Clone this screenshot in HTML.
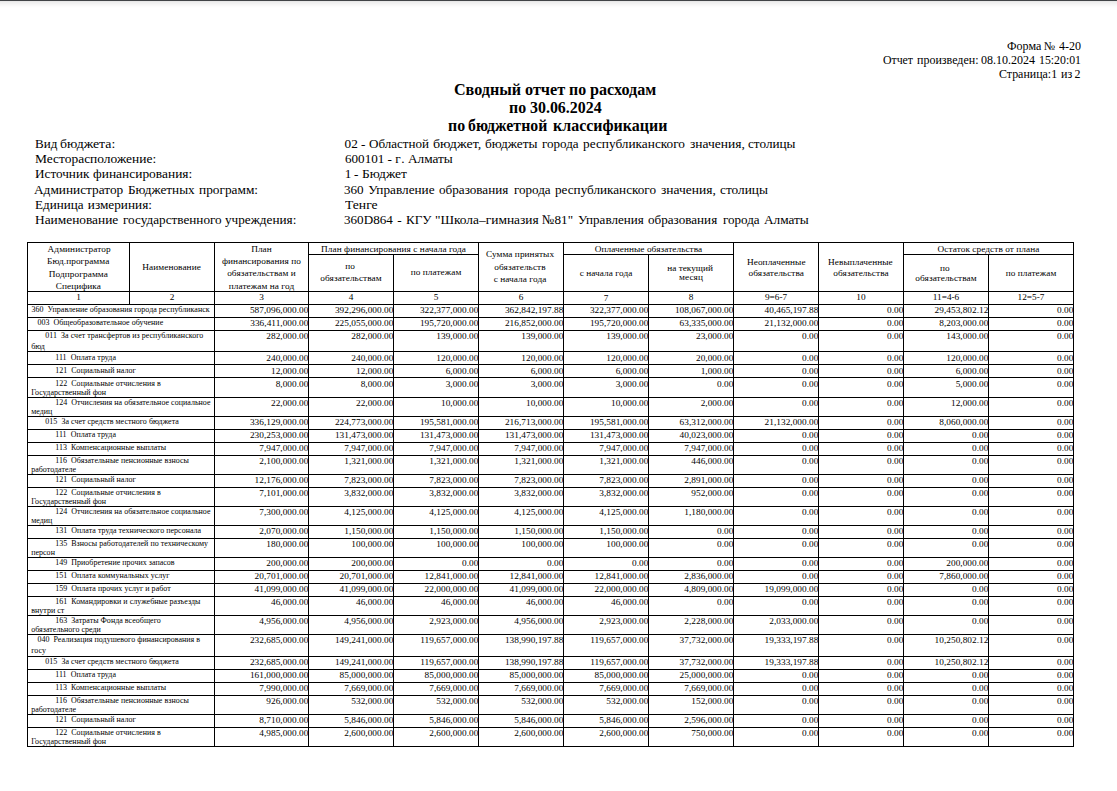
<!DOCTYPE html>
<html lang="ru"><head><meta charset="utf-8"><title>Сводный отчет по расходам</title>
<style>
html,body{margin:0;padding:0;background:#fff;}
body{width:1117px;height:791px;position:relative;overflow:hidden;font-family:"Liberation Serif",serif;color:#000;}
.t{position:absolute;white-space:nowrap;}
.w{transform-origin:0 0;}
.l{position:absolute;background:#000;}
.s{position:absolute;left:0;width:1117px;height:1px;}
</style></head><body>
<div class="s" style="top:0px;background:#414447"></div><div class="s" style="top:1px;background:#e8e8e8"></div><div class="s" style="top:2px;background:#efefef"></div><div class="s" style="top:3px;background:#f2f2f2"></div><div class="s" style="top:4px;background:#f6f6f6"></div><div class="s" style="top:5px;background:#f9f9f9"></div><div class="s" style="top:6px;background:#fcfcfc"></div><div class="s" style="top:7px;background:#fefefe"></div>
<div class="t w" style="left:1006.79px;top:38px;font-size:11.939px;line-height:16px;transform:scaleX(1.0105);">Форма</div>
<div class="t w" style="left:1043.83px;top:38px;font-size:11.939px;line-height:16px;">№</div>
<div class="t w" style="left:1058.55px;top:38px;font-size:11.939px;line-height:16px;transform:scaleX(1.0100);">4-20</div>
<div class="t w" style="left:882.71px;top:52px;font-size:11.939px;line-height:16px;transform:scaleX(0.9890);">Отчет</div>
<div class="t w" style="left:916.65px;top:52px;font-size:11.939px;line-height:16px;transform:scaleX(1.0071);">произведен:</div>
<div class="t w" style="left:980.80px;top:52px;font-size:11.939px;line-height:16px;transform:scaleX(1.0075);">08.10.2024</div>
<div class="t w" style="left:1038.61px;top:52px;font-size:11.939px;line-height:16px;transform:scaleX(0.9900);">15:20:01</div>
<div class="t w" style="left:999.00px;top:66px;font-size:11.939px;line-height:16px;">Страница:1</div>
<div class="t w" style="left:1061.05px;top:66px;font-size:11.939px;line-height:16px;transform:scaleX(1.0095);">из</div>
<div class="t w" style="left:1074.40px;top:66px;font-size:11.939px;line-height:16px;">2</div>
<div class="t w" style="left:453.84px;top:80px;font-size:15.919px;line-height:19px;font-weight:bold;transform:scaleX(1.0104);">Сводный</div>
<div class="t w" style="left:524.56px;top:80px;font-size:15.919px;line-height:19px;font-weight:bold;transform:scaleX(1.0201);">отчет</div>
<div class="t w" style="left:569.23px;top:80px;font-size:15.919px;line-height:19px;font-weight:bold;transform:scaleX(0.9984);">по</div>
<div class="t w" style="left:590.35px;top:80px;font-size:15.919px;line-height:19px;font-weight:bold;transform:scaleX(1.0135);">расходам</div>
<div class="t w" style="left:509.03px;top:98px;font-size:15.919px;line-height:19px;font-weight:bold;transform:scaleX(0.9984);">по</div>
<div class="t w" style="left:530.17px;top:98px;font-size:15.919px;line-height:19px;font-weight:bold;transform:scaleX(1.0011);">30.06.2024</div>
<div class="t w" style="left:447.53px;top:116px;font-size:15.919px;line-height:19px;font-weight:bold;transform:scaleX(0.9984);">по</div>
<div class="t w" style="left:468.18px;top:116px;font-size:15.919px;line-height:19px;font-weight:bold;transform:scaleX(0.9943);">бюджетной</div>
<div class="t w" style="left:553.12px;top:116px;font-size:15.919px;line-height:19px;font-weight:bold;transform:scaleX(1.0042);">классификации</div>
<div class="t w" style="left:34.73px;top:135px;font-size:13.266px;line-height:17px;transform:scaleX(0.9850);">Вид</div>
<div class="t w" style="left:59.75px;top:135px;font-size:13.266px;line-height:17px;transform:scaleX(1.0414);">бюджета:</div>
<div class="t w" style="left:34.72px;top:150px;font-size:13.266px;line-height:17px;transform:scaleX(1.0146);">Месторасположение:</div>
<div class="t w" style="left:34.73px;top:165px;font-size:13.266px;line-height:17px;transform:scaleX(0.9954);">Источник</div>
<div class="t w" style="left:92.89px;top:165px;font-size:13.266px;line-height:17px;transform:scaleX(1.0140);">финансирования:</div>
<div class="t w" style="left:34.47px;top:181px;font-size:13.266px;line-height:17px;transform:scaleX(1.0040);">Администратор</div>
<div class="t w" style="left:127.83px;top:181px;font-size:13.266px;line-height:17px;transform:scaleX(0.9974);">Бюджетных</div>
<div class="t w" style="left:199.05px;top:181px;font-size:13.266px;line-height:17px;transform:scaleX(1.0057);">программ:</div>
<div class="t w" style="left:34.73px;top:196px;font-size:13.266px;line-height:17px;transform:scaleX(0.9876);">Единица</div>
<div class="t w" style="left:87.85px;top:196px;font-size:13.266px;line-height:17px;">измериния:</div>
<div class="t w" style="left:34.72px;top:211px;font-size:13.266px;line-height:17px;transform:scaleX(1.0092);">Наименование</div>
<div class="t w" style="left:122.65px;top:211px;font-size:13.266px;line-height:17px;transform:scaleX(0.9962);">государственного</div>
<div class="t w" style="left:225.48px;top:211px;font-size:13.266px;line-height:17px;transform:scaleX(0.9975);">учреждения:</div>
<div class="t w" style="left:344.50px;top:135px;font-size:13.266px;line-height:17px;">02</div>
<div class="t w" style="left:361.10px;top:135px;font-size:13.266px;line-height:17px;">-</div>
<div class="t w" style="left:368.61px;top:135px;font-size:13.266px;line-height:17px;transform:scaleX(0.9850);">Областной</div>
<div class="t w" style="left:433.44px;top:135px;font-size:13.266px;line-height:17px;transform:scaleX(1.0554);">бюджет,</div>
<div class="t w" style="left:484.97px;top:135px;font-size:13.266px;line-height:17px;transform:scaleX(1.0044);">бюджеты</div>
<div class="t w" style="left:541.75px;top:135px;font-size:13.266px;line-height:17px;transform:scaleX(0.9850);">города</div>
<div class="t w" style="left:583.35px;top:135px;font-size:13.266px;line-height:17px;transform:scaleX(1.0042);">республиканского</div>
<div class="t w" style="left:689.72px;top:135px;font-size:13.266px;line-height:17px;transform:scaleX(1.0185);">значения,</div>
<div class="t w" style="left:748.10px;top:135px;font-size:13.266px;line-height:17px;transform:scaleX(0.9963);">столицы</div>
<div class="t w" style="left:344.50px;top:150px;font-size:13.266px;line-height:17px;transform:scaleX(0.9900);">600101</div>
<div class="t w" style="left:387.60px;top:150px;font-size:13.266px;line-height:17px;">-</div>
<div class="t w" style="left:395.15px;top:150px;font-size:13.266px;line-height:17px;">г</div>
<div class="t w" style="left:401.23px;top:150px;font-size:13.266px;line-height:17px;">.</div>
<div class="t w" style="left:408.17px;top:150px;font-size:13.266px;line-height:17px;transform:scaleX(1.0011);">Алматы</div>
<div class="t w" style="left:344.78px;top:165px;font-size:13.266px;line-height:17px;">1</div>
<div class="t w" style="left:354.10px;top:165px;font-size:13.266px;line-height:17px;">-</div>
<div class="t w" style="left:362.02px;top:165px;font-size:13.266px;line-height:17px;transform:scaleX(1.0155);">Бюджет</div>
<div class="t w" style="left:344.38px;top:181px;font-size:13.266px;line-height:17px;transform:scaleX(0.9900);">360</div>
<div class="t w" style="left:368.13px;top:181px;font-size:13.266px;line-height:17px;">Управление</div>
<div class="t w" style="left:439.20px;top:181px;font-size:13.266px;line-height:17px;transform:scaleX(0.9910);">образования</div>
<div class="t w" style="left:513.75px;top:181px;font-size:13.266px;line-height:17px;transform:scaleX(0.9850);">города</div>
<div class="t w" style="left:555.15px;top:181px;font-size:13.266px;line-height:17px;transform:scaleX(0.9943);">республиканского</div>
<div class="t w" style="left:661.22px;top:181px;font-size:13.266px;line-height:17px;transform:scaleX(1.0185);">значения,</div>
<div class="t w" style="left:719.50px;top:181px;font-size:13.266px;line-height:17px;transform:scaleX(1.0048);">столицы</div>
<div class="t w" style="left:344.74px;top:196px;font-size:13.266px;line-height:17px;transform:scaleX(1.0290);">Тенге</div>
<div class="t w" style="left:344.38px;top:211px;font-size:13.266px;line-height:17px;transform:scaleX(0.9900);">360D864</div>
<div class="t w" style="left:397.30px;top:211px;font-size:13.266px;line-height:17px;">-</div>
<div class="t w" style="left:405.53px;top:211px;font-size:13.266px;line-height:17px;transform:scaleX(0.9850);">КГУ</div>
<div class="t w" style="left:434.81px;top:211px;font-size:13.266px;line-height:17px;transform:scaleX(1.0123);">&quot;Школа–гимназия</div>
<div class="t w" style="left:542.13px;top:211px;font-size:13.266px;line-height:17px;transform:scaleX(0.9900);">№81&quot;</div>
<div class="t w" style="left:578.03px;top:211px;font-size:13.266px;line-height:17px;transform:scaleX(0.9850);">Управления</div>
<div class="t w" style="left:648.21px;top:211px;font-size:13.266px;line-height:17px;transform:scaleX(0.9895);">образования</div>
<div class="t w" style="left:723.05px;top:211px;font-size:13.266px;line-height:17px;transform:scaleX(0.9850);">города</div>
<div class="t w" style="left:763.77px;top:211px;font-size:13.266px;line-height:17px;transform:scaleX(1.0011);">Алматы</div>
<div class="l" style="left:27px;top:242px;width:1047px;height:1px"></div>
<div class="l" style="left:308px;top:254px;width:171px;height:1px"></div>
<div class="l" style="left:563px;top:254px;width:171px;height:1px"></div>
<div class="l" style="left:903px;top:254px;width:171px;height:1px"></div>
<div class="l" style="left:27px;top:291px;width:1047px;height:1px"></div>
<div class="l" style="left:27px;top:304px;width:1047px;height:1px"></div>
<div class="l" style="left:27px;top:317px;width:1047px;height:1px"></div>
<div class="l" style="left:27px;top:330px;width:1047px;height:1px"></div>
<div class="l" style="left:27px;top:351px;width:1047px;height:1px"></div>
<div class="l" style="left:27px;top:364px;width:1047px;height:1px"></div>
<div class="l" style="left:27px;top:377px;width:1047px;height:1px"></div>
<div class="l" style="left:27px;top:397px;width:1047px;height:1px"></div>
<div class="l" style="left:27px;top:416px;width:1047px;height:1px"></div>
<div class="l" style="left:27px;top:429px;width:1047px;height:1px"></div>
<div class="l" style="left:27px;top:442px;width:1047px;height:1px"></div>
<div class="l" style="left:27px;top:455px;width:1047px;height:1px"></div>
<div class="l" style="left:27px;top:474px;width:1047px;height:1px"></div>
<div class="l" style="left:27px;top:487px;width:1047px;height:1px"></div>
<div class="l" style="left:27px;top:506px;width:1047px;height:1px"></div>
<div class="l" style="left:27px;top:525px;width:1047px;height:1px"></div>
<div class="l" style="left:27px;top:538px;width:1047px;height:1px"></div>
<div class="l" style="left:27px;top:557px;width:1047px;height:1px"></div>
<div class="l" style="left:27px;top:570px;width:1047px;height:1px"></div>
<div class="l" style="left:27px;top:583px;width:1047px;height:1px"></div>
<div class="l" style="left:27px;top:596px;width:1047px;height:1px"></div>
<div class="l" style="left:27px;top:615px;width:1047px;height:1px"></div>
<div class="l" style="left:27px;top:634px;width:1047px;height:1px"></div>
<div class="l" style="left:27px;top:656px;width:1047px;height:1px"></div>
<div class="l" style="left:27px;top:669px;width:1047px;height:1px"></div>
<div class="l" style="left:27px;top:682px;width:1047px;height:1px"></div>
<div class="l" style="left:27px;top:695px;width:1047px;height:1px"></div>
<div class="l" style="left:27px;top:714px;width:1047px;height:1px"></div>
<div class="l" style="left:27px;top:727px;width:1047px;height:1px"></div>
<div class="l" style="left:27px;top:746px;width:1047px;height:1px"></div>
<div class="l" style="left:27px;top:242px;width:1px;height:63px"></div>
<div class="l" style="left:129px;top:242px;width:1px;height:63px"></div>
<div class="l" style="left:214px;top:242px;width:1px;height:63px"></div>
<div class="l" style="left:308px;top:242px;width:1px;height:63px"></div>
<div class="l" style="left:393px;top:254px;width:1px;height:51px"></div>
<div class="l" style="left:478px;top:242px;width:1px;height:63px"></div>
<div class="l" style="left:563px;top:242px;width:1px;height:63px"></div>
<div class="l" style="left:648px;top:254px;width:1px;height:51px"></div>
<div class="l" style="left:733px;top:242px;width:1px;height:63px"></div>
<div class="l" style="left:818px;top:242px;width:1px;height:63px"></div>
<div class="l" style="left:903px;top:242px;width:1px;height:63px"></div>
<div class="l" style="left:988px;top:254px;width:1px;height:51px"></div>
<div class="l" style="left:1073px;top:242px;width:1px;height:63px"></div>
<div class="l" style="left:27px;top:304px;width:1px;height:443px"></div>
<div class="l" style="left:214px;top:304px;width:1px;height:443px"></div>
<div class="l" style="left:308px;top:304px;width:1px;height:443px"></div>
<div class="l" style="left:393px;top:304px;width:1px;height:443px"></div>
<div class="l" style="left:478px;top:304px;width:1px;height:443px"></div>
<div class="l" style="left:563px;top:304px;width:1px;height:443px"></div>
<div class="l" style="left:648px;top:304px;width:1px;height:443px"></div>
<div class="l" style="left:733px;top:304px;width:1px;height:443px"></div>
<div class="l" style="left:818px;top:304px;width:1px;height:443px"></div>
<div class="l" style="left:903px;top:304px;width:1px;height:443px"></div>
<div class="l" style="left:988px;top:304px;width:1px;height:443px"></div>
<div class="l" style="left:1073px;top:304px;width:1px;height:443px"></div>
<div class="t" style="top:243px;font-size:9.286px;line-height:12px;left:-70.90px;width:300px;text-align:center;letter-spacing:0.07px;">Администратор</div>
<div class="t" style="top:255px;font-size:9.286px;line-height:12px;left:-71.80px;width:300px;text-align:center;letter-spacing:0.07px;">Бюд.программа</div>
<div class="t" style="top:268px;font-size:9.286px;line-height:12px;left:-71.70px;width:300px;text-align:center;letter-spacing:0.07px;">Подпрограмма</div>
<div class="t" style="top:280px;font-size:9.286px;line-height:12px;left:-71.70px;width:300px;text-align:center;letter-spacing:0.07px;">Специфика</div>
<div class="t" style="top:261px;font-size:9.286px;line-height:12px;left:21.60px;width:300px;text-align:center;letter-spacing:0.07px;">Наименование</div>
<div class="t" style="top:243px;font-size:9.286px;line-height:12px;left:111.50px;width:300px;text-align:center;letter-spacing:0.07px;">План</div>
<div class="t" style="top:255px;font-size:9.286px;line-height:12px;left:111.50px;width:300px;text-align:center;letter-spacing:0.07px;">финансирования по</div>
<div class="t" style="top:267px;font-size:9.286px;line-height:12px;left:111.50px;width:300px;text-align:center;letter-spacing:0.07px;">обязательствам и</div>
<div class="t" style="top:280px;font-size:9.286px;line-height:12px;left:111.50px;width:300px;text-align:center;letter-spacing:0.07px;">платежам на год</div>
<div class="t" style="top:243px;font-size:9.286px;line-height:12px;left:243.50px;width:300px;text-align:center;letter-spacing:0.07px;">План финансирования с начала года</div>
<div class="t" style="top:260px;font-size:9.286px;line-height:12px;left:200.00px;width:300px;text-align:center;letter-spacing:0.07px;">по</div>
<div class="t" style="top:272px;font-size:9.286px;line-height:12px;left:201.00px;width:300px;text-align:center;letter-spacing:0.07px;">обязательствам</div>
<div class="t" style="top:266px;font-size:9.286px;line-height:12px;left:286.00px;width:300px;text-align:center;letter-spacing:0.07px;">по платежам</div>
<div class="t" style="top:248px;font-size:9.286px;line-height:12px;left:370.00px;width:300px;text-align:center;letter-spacing:0.07px;">Сумма принятых</div>
<div class="t" style="top:261px;font-size:9.286px;line-height:12px;left:370.00px;width:300px;text-align:center;letter-spacing:0.07px;">обязательств</div>
<div class="t" style="top:273px;font-size:9.286px;line-height:12px;left:370.00px;width:300px;text-align:center;letter-spacing:0.07px;">с начала года</div>
<div class="t" style="top:243px;font-size:9.286px;line-height:12px;left:498.50px;width:300px;text-align:center;letter-spacing:0.07px;">Оплаченные обязательства</div>
<div class="t" style="top:267px;font-size:9.286px;line-height:12px;left:456.00px;width:300px;text-align:center;letter-spacing:0.07px;">с начала года</div>
<div class="t" style="top:262px;font-size:9.286px;line-height:12px;left:540.10px;width:300px;text-align:center;">на текущий</div>
<div class="t" style="top:271px;font-size:9.286px;line-height:12px;left:541.00px;width:300px;text-align:center;letter-spacing:0.07px;">месяц</div>
<div class="t" style="top:256px;font-size:9.286px;line-height:12px;left:626.30px;width:300px;text-align:center;letter-spacing:0.07px;">Неоплаченные</div>
<div class="t" style="top:267px;font-size:9.286px;line-height:12px;left:626.30px;width:300px;text-align:center;letter-spacing:0.07px;">обязательства</div>
<div class="t" style="top:256px;font-size:9.286px;line-height:12px;left:710.40px;width:300px;text-align:center;letter-spacing:0.07px;">Невыплаченные</div>
<div class="t" style="top:267px;font-size:9.286px;line-height:12px;left:711.00px;width:300px;text-align:center;letter-spacing:0.07px;">обязательства</div>
<div class="t" style="top:243px;font-size:9.286px;line-height:12px;left:838.50px;width:300px;text-align:center;letter-spacing:0.07px;">Остаток средств от плана</div>
<div class="t" style="top:262px;font-size:9.286px;line-height:12px;left:794.80px;width:300px;text-align:center;letter-spacing:0.07px;">по</div>
<div class="t" style="top:272px;font-size:9.286px;line-height:12px;left:796.00px;width:300px;text-align:center;letter-spacing:0.07px;">обязательствам</div>
<div class="t" style="top:267px;font-size:9.286px;line-height:12px;left:881.00px;width:300px;text-align:center;letter-spacing:0.07px;">по платежам</div>
<div class="t" style="top:291px;font-size:9.286px;line-height:12px;left:-71.50px;width:300px;text-align:center;">1</div>
<div class="t" style="top:291px;font-size:9.286px;line-height:12px;left:22.00px;width:300px;text-align:center;">2</div>
<div class="t" style="top:291px;font-size:9.286px;line-height:12px;left:111.50px;width:300px;text-align:center;">3</div>
<div class="t" style="top:291px;font-size:9.286px;line-height:12px;left:201.00px;width:300px;text-align:center;">4</div>
<div class="t" style="top:291px;font-size:9.286px;line-height:12px;left:286.00px;width:300px;text-align:center;">5</div>
<div class="t" style="top:291px;font-size:9.286px;line-height:12px;left:371.00px;width:300px;text-align:center;">6</div>
<div class="t" style="top:292px;font-size:9.286px;line-height:12px;left:456.00px;width:300px;text-align:center;">7</div>
<div class="t" style="top:291px;font-size:9.286px;line-height:12px;left:541.00px;width:300px;text-align:center;">8</div>
<div class="t" style="top:291px;font-size:9.286px;line-height:12px;left:626.00px;width:300px;text-align:center;">9=6-7</div>
<div class="t" style="top:291px;font-size:9.286px;line-height:12px;left:711.00px;width:300px;text-align:center;">10</div>
<div class="t" style="top:291px;font-size:9.286px;line-height:12px;left:796.00px;width:300px;text-align:center;">11=4-6</div>
<div class="t" style="top:291px;font-size:9.286px;line-height:12px;left:881.00px;width:300px;text-align:center;">12=5-7</div>
<div class="t" style="top:304px;font-size:7.960px;line-height:11px;left:31.50px;letter-spacing:0.036px;">360&nbsp;&nbsp;Управление образования города республиканск</div>
<div class="t" style="top:304px;font-size:9.286px;line-height:12px;right:808.60px;letter-spacing:0.04px;">587,096,000.00</div>
<div class="t" style="top:304px;font-size:9.286px;line-height:12px;right:723.60px;letter-spacing:0.04px;">392,296,000.00</div>
<div class="t" style="top:304px;font-size:9.286px;line-height:12px;right:638.60px;letter-spacing:0.04px;">322,377,000.00</div>
<div class="t" style="top:304px;font-size:9.286px;line-height:12px;right:553.60px;letter-spacing:0.04px;">362,842,197.88</div>
<div class="t" style="top:304px;font-size:9.286px;line-height:12px;right:468.60px;letter-spacing:0.04px;">322,377,000.00</div>
<div class="t" style="top:304px;font-size:9.286px;line-height:12px;right:383.60px;letter-spacing:0.04px;">108,067,000.00</div>
<div class="t" style="top:304px;font-size:9.286px;line-height:12px;right:298.60px;letter-spacing:0.04px;">40,465,197.88</div>
<div class="t" style="top:304px;font-size:9.286px;line-height:12px;right:213.60px;letter-spacing:0.04px;">0.00</div>
<div class="t" style="top:304px;font-size:9.286px;line-height:12px;right:128.60px;letter-spacing:0.04px;">29,453,802.12</div>
<div class="t" style="top:304px;font-size:9.286px;line-height:12px;right:43.60px;letter-spacing:0.04px;">0.00</div>
<div class="t" style="top:317px;font-size:7.960px;line-height:11px;left:37.40px;letter-spacing:0.036px;">003&nbsp;&nbsp;Общеобразовательное обучение</div>
<div class="t" style="top:317px;font-size:9.286px;line-height:12px;right:808.60px;letter-spacing:0.04px;">336,411,000.00</div>
<div class="t" style="top:317px;font-size:9.286px;line-height:12px;right:723.60px;letter-spacing:0.04px;">225,055,000.00</div>
<div class="t" style="top:317px;font-size:9.286px;line-height:12px;right:638.60px;letter-spacing:0.04px;">195,720,000.00</div>
<div class="t" style="top:317px;font-size:9.286px;line-height:12px;right:553.60px;letter-spacing:0.04px;">216,852,000.00</div>
<div class="t" style="top:317px;font-size:9.286px;line-height:12px;right:468.60px;letter-spacing:0.04px;">195,720,000.00</div>
<div class="t" style="top:317px;font-size:9.286px;line-height:12px;right:383.60px;letter-spacing:0.04px;">63,335,000.00</div>
<div class="t" style="top:317px;font-size:9.286px;line-height:12px;right:298.60px;letter-spacing:0.04px;">21,132,000.00</div>
<div class="t" style="top:317px;font-size:9.286px;line-height:12px;right:213.60px;letter-spacing:0.04px;">0.00</div>
<div class="t" style="top:317px;font-size:9.286px;line-height:12px;right:128.60px;letter-spacing:0.04px;">8,203,000.00</div>
<div class="t" style="top:317px;font-size:9.286px;line-height:12px;right:43.60px;letter-spacing:0.04px;">0.00</div>
<div class="t" style="top:330px;font-size:7.960px;line-height:11px;left:45.30px;letter-spacing:0.036px;">011&nbsp;&nbsp;За счет трансфертов из республиканского</div>
<div class="t" style="top:341px;font-size:7.960px;line-height:11px;left:31.20px;letter-spacing:0.036px;">бюд</div>
<div class="t" style="top:330px;font-size:9.286px;line-height:12px;right:808.60px;letter-spacing:0.04px;">282,000.00</div>
<div class="t" style="top:330px;font-size:9.286px;line-height:12px;right:723.60px;letter-spacing:0.04px;">282,000.00</div>
<div class="t" style="top:330px;font-size:9.286px;line-height:12px;right:638.60px;letter-spacing:0.04px;">139,000.00</div>
<div class="t" style="top:330px;font-size:9.286px;line-height:12px;right:553.60px;letter-spacing:0.04px;">139,000.00</div>
<div class="t" style="top:330px;font-size:9.286px;line-height:12px;right:468.60px;letter-spacing:0.04px;">139,000.00</div>
<div class="t" style="top:330px;font-size:9.286px;line-height:12px;right:383.60px;letter-spacing:0.04px;">23,000.00</div>
<div class="t" style="top:330px;font-size:9.286px;line-height:12px;right:298.60px;letter-spacing:0.04px;">0.00</div>
<div class="t" style="top:330px;font-size:9.286px;line-height:12px;right:213.60px;letter-spacing:0.04px;">0.00</div>
<div class="t" style="top:330px;font-size:9.286px;line-height:12px;right:128.60px;letter-spacing:0.04px;">143,000.00</div>
<div class="t" style="top:330px;font-size:9.286px;line-height:12px;right:43.60px;letter-spacing:0.04px;">0.00</div>
<div class="t" style="top:352px;font-size:7.960px;line-height:11px;left:55.20px;letter-spacing:0.036px;">111&nbsp;&nbsp;Оплата труда</div>
<div class="t" style="top:352px;font-size:9.286px;line-height:12px;right:808.60px;letter-spacing:0.04px;">240,000.00</div>
<div class="t" style="top:352px;font-size:9.286px;line-height:12px;right:723.60px;letter-spacing:0.04px;">240,000.00</div>
<div class="t" style="top:352px;font-size:9.286px;line-height:12px;right:638.60px;letter-spacing:0.04px;">120,000.00</div>
<div class="t" style="top:352px;font-size:9.286px;line-height:12px;right:553.60px;letter-spacing:0.04px;">120,000.00</div>
<div class="t" style="top:352px;font-size:9.286px;line-height:12px;right:468.60px;letter-spacing:0.04px;">120,000.00</div>
<div class="t" style="top:352px;font-size:9.286px;line-height:12px;right:383.60px;letter-spacing:0.04px;">20,000.00</div>
<div class="t" style="top:352px;font-size:9.286px;line-height:12px;right:298.60px;letter-spacing:0.04px;">0.00</div>
<div class="t" style="top:352px;font-size:9.286px;line-height:12px;right:213.60px;letter-spacing:0.04px;">0.00</div>
<div class="t" style="top:352px;font-size:9.286px;line-height:12px;right:128.60px;letter-spacing:0.04px;">120,000.00</div>
<div class="t" style="top:352px;font-size:9.286px;line-height:12px;right:43.60px;letter-spacing:0.04px;">0.00</div>
<div class="t" style="top:365px;font-size:7.960px;line-height:11px;left:55.20px;letter-spacing:0.036px;">121&nbsp;&nbsp;Социальный налог</div>
<div class="t" style="top:365px;font-size:9.286px;line-height:12px;right:808.60px;letter-spacing:0.04px;">12,000.00</div>
<div class="t" style="top:365px;font-size:9.286px;line-height:12px;right:723.60px;letter-spacing:0.04px;">12,000.00</div>
<div class="t" style="top:365px;font-size:9.286px;line-height:12px;right:638.60px;letter-spacing:0.04px;">6,000.00</div>
<div class="t" style="top:365px;font-size:9.286px;line-height:12px;right:553.60px;letter-spacing:0.04px;">6,000.00</div>
<div class="t" style="top:365px;font-size:9.286px;line-height:12px;right:468.60px;letter-spacing:0.04px;">6,000.00</div>
<div class="t" style="top:365px;font-size:9.286px;line-height:12px;right:383.60px;letter-spacing:0.04px;">1,000.00</div>
<div class="t" style="top:365px;font-size:9.286px;line-height:12px;right:298.60px;letter-spacing:0.04px;">0.00</div>
<div class="t" style="top:365px;font-size:9.286px;line-height:12px;right:213.60px;letter-spacing:0.04px;">0.00</div>
<div class="t" style="top:365px;font-size:9.286px;line-height:12px;right:128.60px;letter-spacing:0.04px;">6,000.00</div>
<div class="t" style="top:365px;font-size:9.286px;line-height:12px;right:43.60px;letter-spacing:0.04px;">0.00</div>
<div class="t" style="top:378px;font-size:7.960px;line-height:11px;left:55.20px;letter-spacing:0.036px;">122&nbsp;&nbsp;Социальные отчисления в</div>
<div class="t" style="top:387px;font-size:7.960px;line-height:11px;left:31.20px;letter-spacing:0.036px;">Государственный фон</div>
<div class="t" style="top:378px;font-size:9.286px;line-height:12px;right:808.60px;letter-spacing:0.04px;">8,000.00</div>
<div class="t" style="top:378px;font-size:9.286px;line-height:12px;right:723.60px;letter-spacing:0.04px;">8,000.00</div>
<div class="t" style="top:378px;font-size:9.286px;line-height:12px;right:638.60px;letter-spacing:0.04px;">3,000.00</div>
<div class="t" style="top:378px;font-size:9.286px;line-height:12px;right:553.60px;letter-spacing:0.04px;">3,000.00</div>
<div class="t" style="top:378px;font-size:9.286px;line-height:12px;right:468.60px;letter-spacing:0.04px;">3,000.00</div>
<div class="t" style="top:378px;font-size:9.286px;line-height:12px;right:383.60px;letter-spacing:0.04px;">0.00</div>
<div class="t" style="top:378px;font-size:9.286px;line-height:12px;right:298.60px;letter-spacing:0.04px;">0.00</div>
<div class="t" style="top:378px;font-size:9.286px;line-height:12px;right:213.60px;letter-spacing:0.04px;">0.00</div>
<div class="t" style="top:378px;font-size:9.286px;line-height:12px;right:128.60px;letter-spacing:0.04px;">5,000.00</div>
<div class="t" style="top:378px;font-size:9.286px;line-height:12px;right:43.60px;letter-spacing:0.04px;">0.00</div>
<div class="t" style="top:397px;font-size:7.960px;line-height:11px;left:55.20px;letter-spacing:0.036px;">124&nbsp;&nbsp;Отчисления на обязательное социальное</div>
<div class="t" style="top:406px;font-size:7.960px;line-height:11px;left:31.20px;letter-spacing:0.036px;">медиц</div>
<div class="t" style="top:397px;font-size:9.286px;line-height:12px;right:808.60px;letter-spacing:0.04px;">22,000.00</div>
<div class="t" style="top:397px;font-size:9.286px;line-height:12px;right:723.60px;letter-spacing:0.04px;">22,000.00</div>
<div class="t" style="top:397px;font-size:9.286px;line-height:12px;right:638.60px;letter-spacing:0.04px;">10,000.00</div>
<div class="t" style="top:397px;font-size:9.286px;line-height:12px;right:553.60px;letter-spacing:0.04px;">10,000.00</div>
<div class="t" style="top:397px;font-size:9.286px;line-height:12px;right:468.60px;letter-spacing:0.04px;">10,000.00</div>
<div class="t" style="top:397px;font-size:9.286px;line-height:12px;right:383.60px;letter-spacing:0.04px;">2,000.00</div>
<div class="t" style="top:397px;font-size:9.286px;line-height:12px;right:298.60px;letter-spacing:0.04px;">0.00</div>
<div class="t" style="top:397px;font-size:9.286px;line-height:12px;right:213.60px;letter-spacing:0.04px;">0.00</div>
<div class="t" style="top:397px;font-size:9.286px;line-height:12px;right:128.60px;letter-spacing:0.04px;">12,000.00</div>
<div class="t" style="top:397px;font-size:9.286px;line-height:12px;right:43.60px;letter-spacing:0.04px;">0.00</div>
<div class="t" style="top:416px;font-size:7.960px;line-height:11px;left:45.30px;letter-spacing:0.036px;">015&nbsp;&nbsp;За счет средств местного бюджета</div>
<div class="t" style="top:416px;font-size:9.286px;line-height:12px;right:808.60px;letter-spacing:0.04px;">336,129,000.00</div>
<div class="t" style="top:416px;font-size:9.286px;line-height:12px;right:723.60px;letter-spacing:0.04px;">224,773,000.00</div>
<div class="t" style="top:416px;font-size:9.286px;line-height:12px;right:638.60px;letter-spacing:0.04px;">195,581,000.00</div>
<div class="t" style="top:416px;font-size:9.286px;line-height:12px;right:553.60px;letter-spacing:0.04px;">216,713,000.00</div>
<div class="t" style="top:416px;font-size:9.286px;line-height:12px;right:468.60px;letter-spacing:0.04px;">195,581,000.00</div>
<div class="t" style="top:416px;font-size:9.286px;line-height:12px;right:383.60px;letter-spacing:0.04px;">63,312,000.00</div>
<div class="t" style="top:416px;font-size:9.286px;line-height:12px;right:298.60px;letter-spacing:0.04px;">21,132,000.00</div>
<div class="t" style="top:416px;font-size:9.286px;line-height:12px;right:213.60px;letter-spacing:0.04px;">0.00</div>
<div class="t" style="top:416px;font-size:9.286px;line-height:12px;right:128.60px;letter-spacing:0.04px;">8,060,000.00</div>
<div class="t" style="top:416px;font-size:9.286px;line-height:12px;right:43.60px;letter-spacing:0.04px;">0.00</div>
<div class="t" style="top:429px;font-size:7.960px;line-height:11px;left:55.20px;letter-spacing:0.036px;">111&nbsp;&nbsp;Оплата труда</div>
<div class="t" style="top:429px;font-size:9.286px;line-height:12px;right:808.60px;letter-spacing:0.04px;">230,253,000.00</div>
<div class="t" style="top:429px;font-size:9.286px;line-height:12px;right:723.60px;letter-spacing:0.04px;">131,473,000.00</div>
<div class="t" style="top:429px;font-size:9.286px;line-height:12px;right:638.60px;letter-spacing:0.04px;">131,473,000.00</div>
<div class="t" style="top:429px;font-size:9.286px;line-height:12px;right:553.60px;letter-spacing:0.04px;">131,473,000.00</div>
<div class="t" style="top:429px;font-size:9.286px;line-height:12px;right:468.60px;letter-spacing:0.04px;">131,473,000.00</div>
<div class="t" style="top:429px;font-size:9.286px;line-height:12px;right:383.60px;letter-spacing:0.04px;">40,023,000.00</div>
<div class="t" style="top:429px;font-size:9.286px;line-height:12px;right:298.60px;letter-spacing:0.04px;">0.00</div>
<div class="t" style="top:429px;font-size:9.286px;line-height:12px;right:213.60px;letter-spacing:0.04px;">0.00</div>
<div class="t" style="top:429px;font-size:9.286px;line-height:12px;right:128.60px;letter-spacing:0.04px;">0.00</div>
<div class="t" style="top:429px;font-size:9.286px;line-height:12px;right:43.60px;letter-spacing:0.04px;">0.00</div>
<div class="t" style="top:442px;font-size:7.960px;line-height:11px;left:55.20px;letter-spacing:0.036px;">113&nbsp;&nbsp;Компенсационные выплаты</div>
<div class="t" style="top:442px;font-size:9.286px;line-height:12px;right:808.60px;letter-spacing:0.04px;">7,947,000.00</div>
<div class="t" style="top:442px;font-size:9.286px;line-height:12px;right:723.60px;letter-spacing:0.04px;">7,947,000.00</div>
<div class="t" style="top:442px;font-size:9.286px;line-height:12px;right:638.60px;letter-spacing:0.04px;">7,947,000.00</div>
<div class="t" style="top:442px;font-size:9.286px;line-height:12px;right:553.60px;letter-spacing:0.04px;">7,947,000.00</div>
<div class="t" style="top:442px;font-size:9.286px;line-height:12px;right:468.60px;letter-spacing:0.04px;">7,947,000.00</div>
<div class="t" style="top:442px;font-size:9.286px;line-height:12px;right:383.60px;letter-spacing:0.04px;">7,947,000.00</div>
<div class="t" style="top:442px;font-size:9.286px;line-height:12px;right:298.60px;letter-spacing:0.04px;">0.00</div>
<div class="t" style="top:442px;font-size:9.286px;line-height:12px;right:213.60px;letter-spacing:0.04px;">0.00</div>
<div class="t" style="top:442px;font-size:9.286px;line-height:12px;right:128.60px;letter-spacing:0.04px;">0.00</div>
<div class="t" style="top:442px;font-size:9.286px;line-height:12px;right:43.60px;letter-spacing:0.04px;">0.00</div>
<div class="t" style="top:455px;font-size:7.960px;line-height:11px;left:55.20px;letter-spacing:0.036px;">116&nbsp;&nbsp;Обязательные пенсионные взносы</div>
<div class="t" style="top:464px;font-size:7.960px;line-height:11px;left:31.20px;letter-spacing:0.036px;">работодателе</div>
<div class="t" style="top:455px;font-size:9.286px;line-height:12px;right:808.60px;letter-spacing:0.04px;">2,100,000.00</div>
<div class="t" style="top:455px;font-size:9.286px;line-height:12px;right:723.60px;letter-spacing:0.04px;">1,321,000.00</div>
<div class="t" style="top:455px;font-size:9.286px;line-height:12px;right:638.60px;letter-spacing:0.04px;">1,321,000.00</div>
<div class="t" style="top:455px;font-size:9.286px;line-height:12px;right:553.60px;letter-spacing:0.04px;">1,321,000.00</div>
<div class="t" style="top:455px;font-size:9.286px;line-height:12px;right:468.60px;letter-spacing:0.04px;">1,321,000.00</div>
<div class="t" style="top:455px;font-size:9.286px;line-height:12px;right:383.60px;letter-spacing:0.04px;">446,000.00</div>
<div class="t" style="top:455px;font-size:9.286px;line-height:12px;right:298.60px;letter-spacing:0.04px;">0.00</div>
<div class="t" style="top:455px;font-size:9.286px;line-height:12px;right:213.60px;letter-spacing:0.04px;">0.00</div>
<div class="t" style="top:455px;font-size:9.286px;line-height:12px;right:128.60px;letter-spacing:0.04px;">0.00</div>
<div class="t" style="top:455px;font-size:9.286px;line-height:12px;right:43.60px;letter-spacing:0.04px;">0.00</div>
<div class="t" style="top:474px;font-size:7.960px;line-height:11px;left:55.20px;letter-spacing:0.036px;">121&nbsp;&nbsp;Социальный налог</div>
<div class="t" style="top:474px;font-size:9.286px;line-height:12px;right:808.60px;letter-spacing:0.04px;">12,176,000.00</div>
<div class="t" style="top:474px;font-size:9.286px;line-height:12px;right:723.60px;letter-spacing:0.04px;">7,823,000.00</div>
<div class="t" style="top:474px;font-size:9.286px;line-height:12px;right:638.60px;letter-spacing:0.04px;">7,823,000.00</div>
<div class="t" style="top:474px;font-size:9.286px;line-height:12px;right:553.60px;letter-spacing:0.04px;">7,823,000.00</div>
<div class="t" style="top:474px;font-size:9.286px;line-height:12px;right:468.60px;letter-spacing:0.04px;">7,823,000.00</div>
<div class="t" style="top:474px;font-size:9.286px;line-height:12px;right:383.60px;letter-spacing:0.04px;">2,891,000.00</div>
<div class="t" style="top:474px;font-size:9.286px;line-height:12px;right:298.60px;letter-spacing:0.04px;">0.00</div>
<div class="t" style="top:474px;font-size:9.286px;line-height:12px;right:213.60px;letter-spacing:0.04px;">0.00</div>
<div class="t" style="top:474px;font-size:9.286px;line-height:12px;right:128.60px;letter-spacing:0.04px;">0.00</div>
<div class="t" style="top:474px;font-size:9.286px;line-height:12px;right:43.60px;letter-spacing:0.04px;">0.00</div>
<div class="t" style="top:487px;font-size:7.960px;line-height:11px;left:55.20px;letter-spacing:0.036px;">122&nbsp;&nbsp;Социальные отчисления в</div>
<div class="t" style="top:496px;font-size:7.960px;line-height:11px;left:31.20px;letter-spacing:0.036px;">Государственный фон</div>
<div class="t" style="top:487px;font-size:9.286px;line-height:12px;right:808.60px;letter-spacing:0.04px;">7,101,000.00</div>
<div class="t" style="top:487px;font-size:9.286px;line-height:12px;right:723.60px;letter-spacing:0.04px;">3,832,000.00</div>
<div class="t" style="top:487px;font-size:9.286px;line-height:12px;right:638.60px;letter-spacing:0.04px;">3,832,000.00</div>
<div class="t" style="top:487px;font-size:9.286px;line-height:12px;right:553.60px;letter-spacing:0.04px;">3,832,000.00</div>
<div class="t" style="top:487px;font-size:9.286px;line-height:12px;right:468.60px;letter-spacing:0.04px;">3,832,000.00</div>
<div class="t" style="top:487px;font-size:9.286px;line-height:12px;right:383.60px;letter-spacing:0.04px;">952,000.00</div>
<div class="t" style="top:487px;font-size:9.286px;line-height:12px;right:298.60px;letter-spacing:0.04px;">0.00</div>
<div class="t" style="top:487px;font-size:9.286px;line-height:12px;right:213.60px;letter-spacing:0.04px;">0.00</div>
<div class="t" style="top:487px;font-size:9.286px;line-height:12px;right:128.60px;letter-spacing:0.04px;">0.00</div>
<div class="t" style="top:487px;font-size:9.286px;line-height:12px;right:43.60px;letter-spacing:0.04px;">0.00</div>
<div class="t" style="top:506px;font-size:7.960px;line-height:11px;left:55.20px;letter-spacing:0.036px;">124&nbsp;&nbsp;Отчисления на обязательное социальное</div>
<div class="t" style="top:515px;font-size:7.960px;line-height:11px;left:31.20px;letter-spacing:0.036px;">медиц</div>
<div class="t" style="top:506px;font-size:9.286px;line-height:12px;right:808.60px;letter-spacing:0.04px;">7,300,000.00</div>
<div class="t" style="top:506px;font-size:9.286px;line-height:12px;right:723.60px;letter-spacing:0.04px;">4,125,000.00</div>
<div class="t" style="top:506px;font-size:9.286px;line-height:12px;right:638.60px;letter-spacing:0.04px;">4,125,000.00</div>
<div class="t" style="top:506px;font-size:9.286px;line-height:12px;right:553.60px;letter-spacing:0.04px;">4,125,000.00</div>
<div class="t" style="top:506px;font-size:9.286px;line-height:12px;right:468.60px;letter-spacing:0.04px;">4,125,000.00</div>
<div class="t" style="top:506px;font-size:9.286px;line-height:12px;right:383.60px;letter-spacing:0.04px;">1,180,000.00</div>
<div class="t" style="top:506px;font-size:9.286px;line-height:12px;right:298.60px;letter-spacing:0.04px;">0.00</div>
<div class="t" style="top:506px;font-size:9.286px;line-height:12px;right:213.60px;letter-spacing:0.04px;">0.00</div>
<div class="t" style="top:506px;font-size:9.286px;line-height:12px;right:128.60px;letter-spacing:0.04px;">0.00</div>
<div class="t" style="top:506px;font-size:9.286px;line-height:12px;right:43.60px;letter-spacing:0.04px;">0.00</div>
<div class="t" style="top:525px;font-size:7.960px;line-height:11px;left:55.20px;letter-spacing:0.036px;">131&nbsp;&nbsp;Оплата труда технического персонала</div>
<div class="t" style="top:525px;font-size:9.286px;line-height:12px;right:808.60px;letter-spacing:0.04px;">2,070,000.00</div>
<div class="t" style="top:525px;font-size:9.286px;line-height:12px;right:723.60px;letter-spacing:0.04px;">1,150,000.00</div>
<div class="t" style="top:525px;font-size:9.286px;line-height:12px;right:638.60px;letter-spacing:0.04px;">1,150,000.00</div>
<div class="t" style="top:525px;font-size:9.286px;line-height:12px;right:553.60px;letter-spacing:0.04px;">1,150,000.00</div>
<div class="t" style="top:525px;font-size:9.286px;line-height:12px;right:468.60px;letter-spacing:0.04px;">1,150,000.00</div>
<div class="t" style="top:525px;font-size:9.286px;line-height:12px;right:383.60px;letter-spacing:0.04px;">0.00</div>
<div class="t" style="top:525px;font-size:9.286px;line-height:12px;right:298.60px;letter-spacing:0.04px;">0.00</div>
<div class="t" style="top:525px;font-size:9.286px;line-height:12px;right:213.60px;letter-spacing:0.04px;">0.00</div>
<div class="t" style="top:525px;font-size:9.286px;line-height:12px;right:128.60px;letter-spacing:0.04px;">0.00</div>
<div class="t" style="top:525px;font-size:9.286px;line-height:12px;right:43.60px;letter-spacing:0.04px;">0.00</div>
<div class="t" style="top:538px;font-size:7.960px;line-height:11px;left:55.20px;letter-spacing:0.036px;">135&nbsp;&nbsp;Взносы работодателей по техническому</div>
<div class="t" style="top:547px;font-size:7.960px;line-height:11px;left:31.20px;letter-spacing:0.036px;">персон</div>
<div class="t" style="top:538px;font-size:9.286px;line-height:12px;right:808.60px;letter-spacing:0.04px;">180,000.00</div>
<div class="t" style="top:538px;font-size:9.286px;line-height:12px;right:723.60px;letter-spacing:0.04px;">100,000.00</div>
<div class="t" style="top:538px;font-size:9.286px;line-height:12px;right:638.60px;letter-spacing:0.04px;">100,000.00</div>
<div class="t" style="top:538px;font-size:9.286px;line-height:12px;right:553.60px;letter-spacing:0.04px;">100,000.00</div>
<div class="t" style="top:538px;font-size:9.286px;line-height:12px;right:468.60px;letter-spacing:0.04px;">100,000.00</div>
<div class="t" style="top:538px;font-size:9.286px;line-height:12px;right:383.60px;letter-spacing:0.04px;">0.00</div>
<div class="t" style="top:538px;font-size:9.286px;line-height:12px;right:298.60px;letter-spacing:0.04px;">0.00</div>
<div class="t" style="top:538px;font-size:9.286px;line-height:12px;right:213.60px;letter-spacing:0.04px;">0.00</div>
<div class="t" style="top:538px;font-size:9.286px;line-height:12px;right:128.60px;letter-spacing:0.04px;">0.00</div>
<div class="t" style="top:538px;font-size:9.286px;line-height:12px;right:43.60px;letter-spacing:0.04px;">0.00</div>
<div class="t" style="top:557px;font-size:7.960px;line-height:11px;left:55.20px;letter-spacing:0.036px;">149&nbsp;&nbsp;Приобретение прочих запасов</div>
<div class="t" style="top:557px;font-size:9.286px;line-height:12px;right:808.60px;letter-spacing:0.04px;">200,000.00</div>
<div class="t" style="top:557px;font-size:9.286px;line-height:12px;right:723.60px;letter-spacing:0.04px;">200,000.00</div>
<div class="t" style="top:557px;font-size:9.286px;line-height:12px;right:638.60px;letter-spacing:0.04px;">0.00</div>
<div class="t" style="top:557px;font-size:9.286px;line-height:12px;right:553.60px;letter-spacing:0.04px;">0.00</div>
<div class="t" style="top:557px;font-size:9.286px;line-height:12px;right:468.60px;letter-spacing:0.04px;">0.00</div>
<div class="t" style="top:557px;font-size:9.286px;line-height:12px;right:383.60px;letter-spacing:0.04px;">0.00</div>
<div class="t" style="top:557px;font-size:9.286px;line-height:12px;right:298.60px;letter-spacing:0.04px;">0.00</div>
<div class="t" style="top:557px;font-size:9.286px;line-height:12px;right:213.60px;letter-spacing:0.04px;">0.00</div>
<div class="t" style="top:557px;font-size:9.286px;line-height:12px;right:128.60px;letter-spacing:0.04px;">200,000.00</div>
<div class="t" style="top:557px;font-size:9.286px;line-height:12px;right:43.60px;letter-spacing:0.04px;">0.00</div>
<div class="t" style="top:570px;font-size:7.960px;line-height:11px;left:55.20px;letter-spacing:0.036px;">151&nbsp;&nbsp;Оплата коммунальных услуг</div>
<div class="t" style="top:570px;font-size:9.286px;line-height:12px;right:808.60px;letter-spacing:0.04px;">20,701,000.00</div>
<div class="t" style="top:570px;font-size:9.286px;line-height:12px;right:723.60px;letter-spacing:0.04px;">20,701,000.00</div>
<div class="t" style="top:570px;font-size:9.286px;line-height:12px;right:638.60px;letter-spacing:0.04px;">12,841,000.00</div>
<div class="t" style="top:570px;font-size:9.286px;line-height:12px;right:553.60px;letter-spacing:0.04px;">12,841,000.00</div>
<div class="t" style="top:570px;font-size:9.286px;line-height:12px;right:468.60px;letter-spacing:0.04px;">12,841,000.00</div>
<div class="t" style="top:570px;font-size:9.286px;line-height:12px;right:383.60px;letter-spacing:0.04px;">2,836,000.00</div>
<div class="t" style="top:570px;font-size:9.286px;line-height:12px;right:298.60px;letter-spacing:0.04px;">0.00</div>
<div class="t" style="top:570px;font-size:9.286px;line-height:12px;right:213.60px;letter-spacing:0.04px;">0.00</div>
<div class="t" style="top:570px;font-size:9.286px;line-height:12px;right:128.60px;letter-spacing:0.04px;">7,860,000.00</div>
<div class="t" style="top:570px;font-size:9.286px;line-height:12px;right:43.60px;letter-spacing:0.04px;">0.00</div>
<div class="t" style="top:583px;font-size:7.960px;line-height:11px;left:55.20px;letter-spacing:0.036px;">159&nbsp;&nbsp;Оплата прочих услуг и работ</div>
<div class="t" style="top:583px;font-size:9.286px;line-height:12px;right:808.60px;letter-spacing:0.04px;">41,099,000.00</div>
<div class="t" style="top:583px;font-size:9.286px;line-height:12px;right:723.60px;letter-spacing:0.04px;">41,099,000.00</div>
<div class="t" style="top:583px;font-size:9.286px;line-height:12px;right:638.60px;letter-spacing:0.04px;">22,000,000.00</div>
<div class="t" style="top:583px;font-size:9.286px;line-height:12px;right:553.60px;letter-spacing:0.04px;">41,099,000.00</div>
<div class="t" style="top:583px;font-size:9.286px;line-height:12px;right:468.60px;letter-spacing:0.04px;">22,000,000.00</div>
<div class="t" style="top:583px;font-size:9.286px;line-height:12px;right:383.60px;letter-spacing:0.04px;">4,809,000.00</div>
<div class="t" style="top:583px;font-size:9.286px;line-height:12px;right:298.60px;letter-spacing:0.04px;">19,099,000.00</div>
<div class="t" style="top:583px;font-size:9.286px;line-height:12px;right:213.60px;letter-spacing:0.04px;">0.00</div>
<div class="t" style="top:583px;font-size:9.286px;line-height:12px;right:128.60px;letter-spacing:0.04px;">0.00</div>
<div class="t" style="top:583px;font-size:9.286px;line-height:12px;right:43.60px;letter-spacing:0.04px;">0.00</div>
<div class="t" style="top:596px;font-size:7.960px;line-height:11px;left:55.20px;letter-spacing:0.036px;">161&nbsp;&nbsp;Командировки и служебные разъезды</div>
<div class="t" style="top:605px;font-size:7.960px;line-height:11px;left:31.20px;letter-spacing:0.036px;">внутри ст</div>
<div class="t" style="top:596px;font-size:9.286px;line-height:12px;right:808.60px;letter-spacing:0.04px;">46,000.00</div>
<div class="t" style="top:596px;font-size:9.286px;line-height:12px;right:723.60px;letter-spacing:0.04px;">46,000.00</div>
<div class="t" style="top:596px;font-size:9.286px;line-height:12px;right:638.60px;letter-spacing:0.04px;">46,000.00</div>
<div class="t" style="top:596px;font-size:9.286px;line-height:12px;right:553.60px;letter-spacing:0.04px;">46,000.00</div>
<div class="t" style="top:596px;font-size:9.286px;line-height:12px;right:468.60px;letter-spacing:0.04px;">46,000.00</div>
<div class="t" style="top:596px;font-size:9.286px;line-height:12px;right:383.60px;letter-spacing:0.04px;">0.00</div>
<div class="t" style="top:596px;font-size:9.286px;line-height:12px;right:298.60px;letter-spacing:0.04px;">0.00</div>
<div class="t" style="top:596px;font-size:9.286px;line-height:12px;right:213.60px;letter-spacing:0.04px;">0.00</div>
<div class="t" style="top:596px;font-size:9.286px;line-height:12px;right:128.60px;letter-spacing:0.04px;">0.00</div>
<div class="t" style="top:596px;font-size:9.286px;line-height:12px;right:43.60px;letter-spacing:0.04px;">0.00</div>
<div class="t" style="top:615px;font-size:7.960px;line-height:11px;left:55.20px;letter-spacing:0.036px;">163&nbsp;&nbsp;Затраты Фонда всеобщего</div>
<div class="t" style="top:624px;font-size:7.960px;line-height:11px;left:31.20px;letter-spacing:0.036px;">обязательного среди</div>
<div class="t" style="top:615px;font-size:9.286px;line-height:12px;right:808.60px;letter-spacing:0.04px;">4,956,000.00</div>
<div class="t" style="top:615px;font-size:9.286px;line-height:12px;right:723.60px;letter-spacing:0.04px;">4,956,000.00</div>
<div class="t" style="top:615px;font-size:9.286px;line-height:12px;right:638.60px;letter-spacing:0.04px;">2,923,000.00</div>
<div class="t" style="top:615px;font-size:9.286px;line-height:12px;right:553.60px;letter-spacing:0.04px;">4,956,000.00</div>
<div class="t" style="top:615px;font-size:9.286px;line-height:12px;right:468.60px;letter-spacing:0.04px;">2,923,000.00</div>
<div class="t" style="top:615px;font-size:9.286px;line-height:12px;right:383.60px;letter-spacing:0.04px;">2,228,000.00</div>
<div class="t" style="top:615px;font-size:9.286px;line-height:12px;right:298.60px;letter-spacing:0.04px;">2,033,000.00</div>
<div class="t" style="top:615px;font-size:9.286px;line-height:12px;right:213.60px;letter-spacing:0.04px;">0.00</div>
<div class="t" style="top:615px;font-size:9.286px;line-height:12px;right:128.60px;letter-spacing:0.04px;">0.00</div>
<div class="t" style="top:615px;font-size:9.286px;line-height:12px;right:43.60px;letter-spacing:0.04px;">0.00</div>
<div class="t" style="top:634px;font-size:7.960px;line-height:11px;left:37.40px;letter-spacing:0.036px;">040&nbsp;&nbsp;Реализация подушевого финансирования в</div>
<div class="t" style="top:645px;font-size:7.960px;line-height:11px;left:31.20px;letter-spacing:0.036px;">госу</div>
<div class="t" style="top:634px;font-size:9.286px;line-height:12px;right:808.60px;letter-spacing:0.04px;">232,685,000.00</div>
<div class="t" style="top:634px;font-size:9.286px;line-height:12px;right:723.60px;letter-spacing:0.04px;">149,241,000.00</div>
<div class="t" style="top:634px;font-size:9.286px;line-height:12px;right:638.60px;letter-spacing:0.04px;">119,657,000.00</div>
<div class="t" style="top:634px;font-size:9.286px;line-height:12px;right:553.60px;letter-spacing:0.04px;">138,990,197.88</div>
<div class="t" style="top:634px;font-size:9.286px;line-height:12px;right:468.60px;letter-spacing:0.04px;">119,657,000.00</div>
<div class="t" style="top:634px;font-size:9.286px;line-height:12px;right:383.60px;letter-spacing:0.04px;">37,732,000.00</div>
<div class="t" style="top:634px;font-size:9.286px;line-height:12px;right:298.60px;letter-spacing:0.04px;">19,333,197.88</div>
<div class="t" style="top:634px;font-size:9.286px;line-height:12px;right:213.60px;letter-spacing:0.04px;">0.00</div>
<div class="t" style="top:634px;font-size:9.286px;line-height:12px;right:128.60px;letter-spacing:0.04px;">10,250,802.12</div>
<div class="t" style="top:634px;font-size:9.286px;line-height:12px;right:43.60px;letter-spacing:0.04px;">0.00</div>
<div class="t" style="top:656px;font-size:7.960px;line-height:11px;left:45.30px;letter-spacing:0.036px;">015&nbsp;&nbsp;За счет средств местного бюджета</div>
<div class="t" style="top:656px;font-size:9.286px;line-height:12px;right:808.60px;letter-spacing:0.04px;">232,685,000.00</div>
<div class="t" style="top:656px;font-size:9.286px;line-height:12px;right:723.60px;letter-spacing:0.04px;">149,241,000.00</div>
<div class="t" style="top:656px;font-size:9.286px;line-height:12px;right:638.60px;letter-spacing:0.04px;">119,657,000.00</div>
<div class="t" style="top:656px;font-size:9.286px;line-height:12px;right:553.60px;letter-spacing:0.04px;">138,990,197.88</div>
<div class="t" style="top:656px;font-size:9.286px;line-height:12px;right:468.60px;letter-spacing:0.04px;">119,657,000.00</div>
<div class="t" style="top:656px;font-size:9.286px;line-height:12px;right:383.60px;letter-spacing:0.04px;">37,732,000.00</div>
<div class="t" style="top:656px;font-size:9.286px;line-height:12px;right:298.60px;letter-spacing:0.04px;">19,333,197.88</div>
<div class="t" style="top:656px;font-size:9.286px;line-height:12px;right:213.60px;letter-spacing:0.04px;">0.00</div>
<div class="t" style="top:656px;font-size:9.286px;line-height:12px;right:128.60px;letter-spacing:0.04px;">10,250,802.12</div>
<div class="t" style="top:656px;font-size:9.286px;line-height:12px;right:43.60px;letter-spacing:0.04px;">0.00</div>
<div class="t" style="top:669px;font-size:7.960px;line-height:11px;left:55.20px;letter-spacing:0.036px;">111&nbsp;&nbsp;Оплата труда</div>
<div class="t" style="top:669px;font-size:9.286px;line-height:12px;right:808.60px;letter-spacing:0.04px;">161,000,000.00</div>
<div class="t" style="top:669px;font-size:9.286px;line-height:12px;right:723.60px;letter-spacing:0.04px;">85,000,000.00</div>
<div class="t" style="top:669px;font-size:9.286px;line-height:12px;right:638.60px;letter-spacing:0.04px;">85,000,000.00</div>
<div class="t" style="top:669px;font-size:9.286px;line-height:12px;right:553.60px;letter-spacing:0.04px;">85,000,000.00</div>
<div class="t" style="top:669px;font-size:9.286px;line-height:12px;right:468.60px;letter-spacing:0.04px;">85,000,000.00</div>
<div class="t" style="top:669px;font-size:9.286px;line-height:12px;right:383.60px;letter-spacing:0.04px;">25,000,000.00</div>
<div class="t" style="top:669px;font-size:9.286px;line-height:12px;right:298.60px;letter-spacing:0.04px;">0.00</div>
<div class="t" style="top:669px;font-size:9.286px;line-height:12px;right:213.60px;letter-spacing:0.04px;">0.00</div>
<div class="t" style="top:669px;font-size:9.286px;line-height:12px;right:128.60px;letter-spacing:0.04px;">0.00</div>
<div class="t" style="top:669px;font-size:9.286px;line-height:12px;right:43.60px;letter-spacing:0.04px;">0.00</div>
<div class="t" style="top:682px;font-size:7.960px;line-height:11px;left:55.20px;letter-spacing:0.036px;">113&nbsp;&nbsp;Компенсационные выплаты</div>
<div class="t" style="top:682px;font-size:9.286px;line-height:12px;right:808.60px;letter-spacing:0.04px;">7,990,000.00</div>
<div class="t" style="top:682px;font-size:9.286px;line-height:12px;right:723.60px;letter-spacing:0.04px;">7,669,000.00</div>
<div class="t" style="top:682px;font-size:9.286px;line-height:12px;right:638.60px;letter-spacing:0.04px;">7,669,000.00</div>
<div class="t" style="top:682px;font-size:9.286px;line-height:12px;right:553.60px;letter-spacing:0.04px;">7,669,000.00</div>
<div class="t" style="top:682px;font-size:9.286px;line-height:12px;right:468.60px;letter-spacing:0.04px;">7,669,000.00</div>
<div class="t" style="top:682px;font-size:9.286px;line-height:12px;right:383.60px;letter-spacing:0.04px;">7,669,000.00</div>
<div class="t" style="top:682px;font-size:9.286px;line-height:12px;right:298.60px;letter-spacing:0.04px;">0.00</div>
<div class="t" style="top:682px;font-size:9.286px;line-height:12px;right:213.60px;letter-spacing:0.04px;">0.00</div>
<div class="t" style="top:682px;font-size:9.286px;line-height:12px;right:128.60px;letter-spacing:0.04px;">0.00</div>
<div class="t" style="top:682px;font-size:9.286px;line-height:12px;right:43.60px;letter-spacing:0.04px;">0.00</div>
<div class="t" style="top:695px;font-size:7.960px;line-height:11px;left:55.20px;letter-spacing:0.036px;">116&nbsp;&nbsp;Обязательные пенсионные взносы</div>
<div class="t" style="top:704px;font-size:7.960px;line-height:11px;left:31.20px;letter-spacing:0.036px;">работодателе</div>
<div class="t" style="top:695px;font-size:9.286px;line-height:12px;right:808.60px;letter-spacing:0.04px;">926,000.00</div>
<div class="t" style="top:695px;font-size:9.286px;line-height:12px;right:723.60px;letter-spacing:0.04px;">532,000.00</div>
<div class="t" style="top:695px;font-size:9.286px;line-height:12px;right:638.60px;letter-spacing:0.04px;">532,000.00</div>
<div class="t" style="top:695px;font-size:9.286px;line-height:12px;right:553.60px;letter-spacing:0.04px;">532,000.00</div>
<div class="t" style="top:695px;font-size:9.286px;line-height:12px;right:468.60px;letter-spacing:0.04px;">532,000.00</div>
<div class="t" style="top:695px;font-size:9.286px;line-height:12px;right:383.60px;letter-spacing:0.04px;">152,000.00</div>
<div class="t" style="top:695px;font-size:9.286px;line-height:12px;right:298.60px;letter-spacing:0.04px;">0.00</div>
<div class="t" style="top:695px;font-size:9.286px;line-height:12px;right:213.60px;letter-spacing:0.04px;">0.00</div>
<div class="t" style="top:695px;font-size:9.286px;line-height:12px;right:128.60px;letter-spacing:0.04px;">0.00</div>
<div class="t" style="top:695px;font-size:9.286px;line-height:12px;right:43.60px;letter-spacing:0.04px;">0.00</div>
<div class="t" style="top:714px;font-size:7.960px;line-height:11px;left:55.20px;letter-spacing:0.036px;">121&nbsp;&nbsp;Социальный налог</div>
<div class="t" style="top:714px;font-size:9.286px;line-height:12px;right:808.60px;letter-spacing:0.04px;">8,710,000.00</div>
<div class="t" style="top:714px;font-size:9.286px;line-height:12px;right:723.60px;letter-spacing:0.04px;">5,846,000.00</div>
<div class="t" style="top:714px;font-size:9.286px;line-height:12px;right:638.60px;letter-spacing:0.04px;">5,846,000.00</div>
<div class="t" style="top:714px;font-size:9.286px;line-height:12px;right:553.60px;letter-spacing:0.04px;">5,846,000.00</div>
<div class="t" style="top:714px;font-size:9.286px;line-height:12px;right:468.60px;letter-spacing:0.04px;">5,846,000.00</div>
<div class="t" style="top:714px;font-size:9.286px;line-height:12px;right:383.60px;letter-spacing:0.04px;">2,596,000.00</div>
<div class="t" style="top:714px;font-size:9.286px;line-height:12px;right:298.60px;letter-spacing:0.04px;">0.00</div>
<div class="t" style="top:714px;font-size:9.286px;line-height:12px;right:213.60px;letter-spacing:0.04px;">0.00</div>
<div class="t" style="top:714px;font-size:9.286px;line-height:12px;right:128.60px;letter-spacing:0.04px;">0.00</div>
<div class="t" style="top:714px;font-size:9.286px;line-height:12px;right:43.60px;letter-spacing:0.04px;">0.00</div>
<div class="t" style="top:727px;font-size:7.960px;line-height:11px;left:55.20px;letter-spacing:0.036px;">122&nbsp;&nbsp;Социальные отчисления в</div>
<div class="t" style="top:736px;font-size:7.960px;line-height:11px;left:31.20px;letter-spacing:0.036px;">Государственный фон</div>
<div class="t" style="top:727px;font-size:9.286px;line-height:12px;right:808.60px;letter-spacing:0.04px;">4,985,000.00</div>
<div class="t" style="top:727px;font-size:9.286px;line-height:12px;right:723.60px;letter-spacing:0.04px;">2,600,000.00</div>
<div class="t" style="top:727px;font-size:9.286px;line-height:12px;right:638.60px;letter-spacing:0.04px;">2,600,000.00</div>
<div class="t" style="top:727px;font-size:9.286px;line-height:12px;right:553.60px;letter-spacing:0.04px;">2,600,000.00</div>
<div class="t" style="top:727px;font-size:9.286px;line-height:12px;right:468.60px;letter-spacing:0.04px;">2,600,000.00</div>
<div class="t" style="top:727px;font-size:9.286px;line-height:12px;right:383.60px;letter-spacing:0.04px;">750,000.00</div>
<div class="t" style="top:727px;font-size:9.286px;line-height:12px;right:298.60px;letter-spacing:0.04px;">0.00</div>
<div class="t" style="top:727px;font-size:9.286px;line-height:12px;right:213.60px;letter-spacing:0.04px;">0.00</div>
<div class="t" style="top:727px;font-size:9.286px;line-height:12px;right:128.60px;letter-spacing:0.04px;">0.00</div>
<div class="t" style="top:727px;font-size:9.286px;line-height:12px;right:43.60px;letter-spacing:0.04px;">0.00</div>
</body></html>
